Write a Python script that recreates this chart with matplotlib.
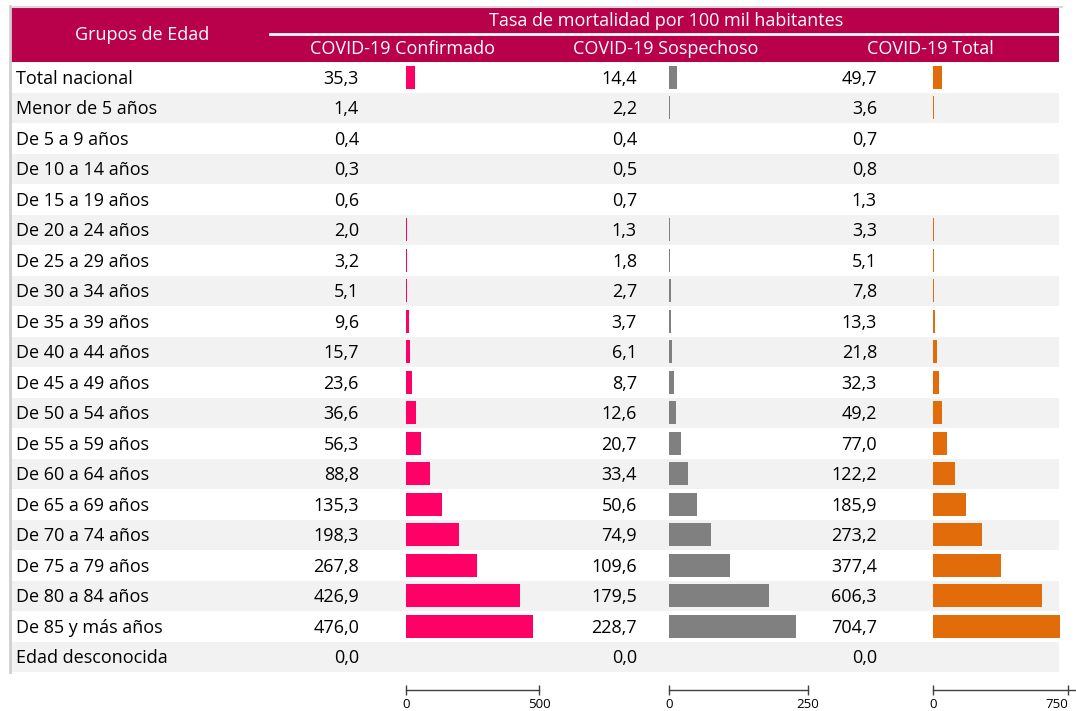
import matplotlib
matplotlib.use("Agg")
import matplotlib.pyplot as plt
from matplotlib.patches import Rectangle

plt.rcParams['font.family'] = ['Open Sans', 'DejaVu Sans']

GROUPS = ["Total nacional", "Menor de 5 años", "De 5 a 9 años", "De 10 a 14 años",
          "De 15 a 19 años", "De 20 a 24 años", "De 25 a 29 años", "De 30 a 34 años",
          "De 35 a 39 años", "De 40 a 44 años", "De 45 a 49 años", "De 50 a 54 años",
          "De 55 a 59 años", "De 60 a 64 años", "De 65 a 69 años", "De 70 a 74 años",
          "De 75 a 79 años", "De 80 a 84 años", "De 85 y más años", "Edad desconocida"]
CONFIRMADO = [35.3, 1.4, 0.4, 0.3, 0.6, 2.0, 3.2, 5.1, 9.6, 15.7, 23.6, 36.6, 56.3,
              88.8, 135.3, 198.3, 267.8, 426.9, 476.0, 0.0]
SOSPECHOSO = [14.4, 2.2, 0.4, 0.5, 0.7, 1.3, 1.8, 2.7, 3.7, 6.1, 8.7, 12.6, 20.7,
              33.4, 50.6, 74.9, 109.6, 179.5, 228.7, 0.0]
TOTAL = [49.7, 3.6, 0.7, 0.8, 1.3, 3.3, 5.1, 7.8, 13.3, 21.8, 32.3, 49.2, 77.0,
         122.2, 185.9, 273.2, 377.4, 606.3, 704.7, 0.0]
SERIES = ["COVID-19 Confirmado", "COVID-19 Sospechoso", "COVID-19 Total"]
HEADER = "Tasa de mortalidad por 100 mil habitantes"
FIRST_COL = "Grupos de Edad"

W, H = 1076, 711
HEAD_C = '#B8004B'
COLORS = ['#FF0066', '#808080', '#E36C0A']
SHADE = '#F2F2F2'
FS = 13

# layout in pixels
TOP_ROWS = 62
ROW_H = 30.5
LEFT, RIGHT = 10, 1059
AXIS_Y = 690
# (value right edge, bar zero px, px per bar-axis max, axis max)
COLS = [(359, 406, 133, 500), (637, 669, 139, 250), (877, 933, 135, 750)]

fig = plt.figure(figsize=(W / 100, H / 100), dpi=100)
bg = fig.add_axes([0, 0, 1, 1])
bg.set_xlim(0, W)
bg.set_ylim(H, 0)
bg.axis('off')

n = len(GROUPS)
# header block
bg.add_patch(Rectangle((LEFT + 1, 8), RIGHT - LEFT - 1, TOP_ROWS - 8, color=HEAD_C, lw=0))
bg.plot([270, RIGHT], [34, 34], color='white', lw=2)
bg.plot([LEFT, RIGHT + 3], [7, 7], color='#D9D9D9', lw=1.5)
bg.plot([LEFT, LEFT], [6, TOP_ROWS + n * ROW_H], color='#D0D0D0', lw=2)
bg.text(142, 35.5, FIRST_COL, color='white', fontsize=FS, ha='center', va='center')
bg.text(666, 20.5, HEADER, color='white', fontsize=FS, ha='center', va='center')
for (vx, bx, bw, mx), name in zip(COLS, SERIES):
    bg.text(bx - 3, 49.5, name, color='white', fontsize=FS, ha='center', va='center')

# rows
for i, g in enumerate(GROUPS):
    y0 = TOP_ROWS + i * ROW_H
    if i % 2 == 1:
        bg.add_patch(Rectangle((LEFT + 1, y0), RIGHT - LEFT - 1, ROW_H, color=SHADE, lw=0))
    yc = y0 + ROW_H / 2 + 1.5
    bg.text(16, yc, g, fontsize=FS, ha='left', va='center', color='black')
    for (vx, bx, bw, mx), vals in zip(COLS, [CONFIRMADO, SOSPECHOSO, TOTAL]):
        bg.text(vx, yc, f"{vals[i]:.1f}".replace('.', ','), fontsize=FS,
                ha='right', va='center', color='black')

# bar panels
span_rows = (AXIS_Y - TOP_ROWS) / ROW_H
for (vx, bx, bw, mx), vals, col in zip(COLS, [CONFIRMADO, SOSPECHOSO, TOTAL], COLORS):
    ax = fig.add_axes([bx / W, (H - AXIS_Y) / H, bw / W, (AXIS_Y - TOP_ROWS) / H])
    ax.patch.set_alpha(0)
    ax.barh(range(n), vals, height=0.76, color=col, lw=0)
    ax.set_xlim(0, mx)
    ax.set_ylim(span_rows - 0.5, -0.5)
    for s in ['top', 'right', 'left']:
        ax.spines[s].set_visible(False)
    ax.spines['bottom'].set_color('#404040')
    ax.spines['bottom'].set_linewidth(1)
    ax.set_yticks([])
    ax.set_xticks([0, mx])
    ax.tick_params(axis='x', direction='inout', length=7, width=1, color='#404040',
                   labelsize=9.5, pad=2)
    if mx == 750:
        ax.get_xticklabels()[-1].set_ha('right')
        ax.spines['bottom'].set_bounds(0, mx * (W - bx) / bw)
        ax.spines['bottom'].set_clip_on(False)

fig.savefig('out.png', dpi=100)
